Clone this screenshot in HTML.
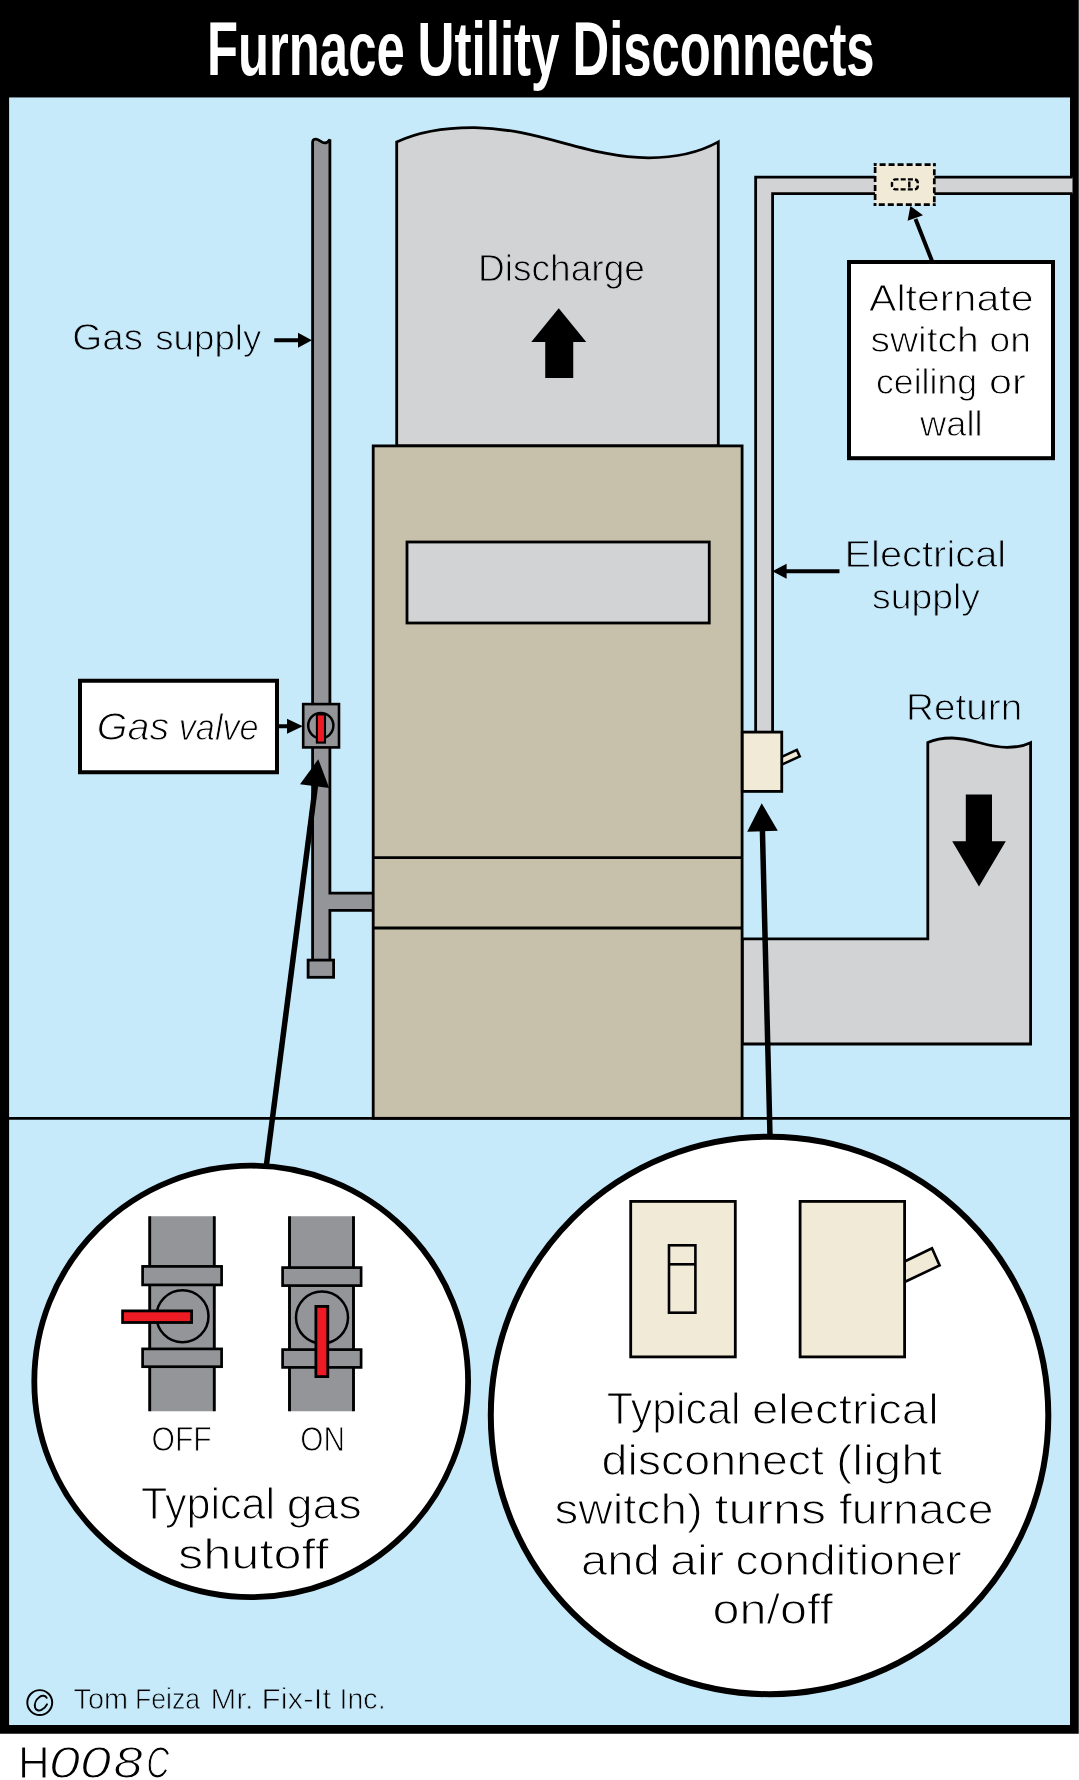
<!DOCTYPE html>
<html>
<head>
<meta charset="utf-8">
<title>Furnace Utility Disconnects</title>
<style>
html,body{margin:0;padding:0;background:#fff;}
body{width:1079px;height:1780px;overflow:hidden;font-family:"Liberation Sans",sans-serif;}
svg{display:block;position:absolute;left:0;top:0;will-change:transform;}
text{font-family:"Liberation Sans",sans-serif;}
</style>
</head>
<body>
<svg width="1079" height="1780" viewBox="0 0 1079 1780">
<!-- FRAME -->
<rect x="0" y="0" width="1078.75" height="1733.75" fill="#000"/>
<rect x="9.1" y="97.45" width="1060.9" height="1627.55" fill="#c7eafb"/>
<!-- TITLE -->
<g id="title" fill="#fff">
<text x="207.0" y="74.85" font-size="75.5" textLength="197.65" lengthAdjust="spacingAndGlyphs" font-weight="bold">Furnace</text>
<text x="417.5" y="74.85" font-size="75.5" textLength="142.07" lengthAdjust="spacingAndGlyphs" font-weight="bold">Utility</text>
<text x="572.5" y="74.85" font-size="75.5" textLength="302.1" lengthAdjust="spacingAndGlyphs" font-weight="bold">Disconnects</text>
</g>
<!-- SCENE -->
<g id="scene" stroke="#000" stroke-width="2.8" stroke-linejoin="miter">
<!-- floor line -->
<line x1="9" y1="1118.3" x2="1070" y2="1118.3"/>
<!-- discharge duct -->
<path d="M396.7,446 L396.7,142 C420,131 448,127.3 475,127.6 C540,128.5 588,157.8 648.5,157.8 C678,157.8 701,151.5 718.3,141.9 L718.3,446 Z" fill="#d1d3d4"/>
<!-- return duct -->
<path d="M742.3,938.9 L927.8,938.9 L927.8,742.6 C935,739.2 943,738 952,738 C975,738.5 985,747.3 1007,747.3 C1017,747.3 1025,745.5 1030.6,742.8 L1030.6,1044 L742.3,1044 Z" fill="#d1d3d4"/>
<!-- gas pipe -->
<path d="M312.6,960 L312.6,142.2 C312.6,139.6 314.4,139 316,139.1 C319.6,139.4 321.4,142.9 324.8,142.9 C327,142.9 328.6,141.4 329.9,139.4 L329.9,893.2 L373,893.2 L373,910.3 L329.9,910.3 L329.9,960 Z" fill="#939598" stroke="none"/>
<path d="M312.6,960 L312.6,142.2 C312.6,139.6 314.4,139 316,139.1 C319.6,139.4 321.4,142.9 324.8,142.9 C327,142.9 328.6,141.4 329.9,139.4 L329.9,893.2 L373,893.2 M373,910.3 L329.9,910.3 L329.9,960" fill="none" stroke-miterlimit="2"/>
<rect x="308.1" y="960.1" width="25.5" height="17.2" fill="#939598"/>
<!-- furnace -->
<rect x="373.2" y="445.9" width="368.9" height="672.4" fill="#c7c0aa"/>
<line x1="373.2" y1="857.7" x2="742.3" y2="857.7"/>
<line x1="373.2" y1="928" x2="742.3" y2="928"/>
<rect x="407" y="542" width="302.25" height="81" fill="#d1d3d4"/>
<!-- conduit -->
<path d="M755.65,733 L755.65,177.2 L1072.5,177.2 L1072.5,193.6 L772.6,193.6 L772.6,733 Z" fill="#d1d3d4" stroke="none"/>
<path d="M755.65,733 L755.65,177.2 L1072.5,177.2 M1072.5,193.6 L772.6,193.6 L772.6,733" fill="none"/>
<!-- junction box -->
<rect x="875.1" y="164.7" width="59.2" height="39.9" fill="#f1ead6" stroke="none"/>
<g fill="none" stroke-width="2.7" stroke-dasharray="6 3" stroke-dashoffset="3.15">
<line x1="873.75" y1="164.7" x2="935.65" y2="164.7"/>
<line x1="934.3" y1="163.35" x2="934.3" y2="205.95"/>
<line x1="935.65" y1="204.6" x2="873.75" y2="204.6"/>
<line x1="875.1" y1="205.95" x2="875.1" y2="163.35"/>
</g>
<rect x="892" y="179.4" width="25.8" height="10" rx="3.5" fill="none" stroke-width="2.4" stroke-dasharray="5 2.2" stroke-dashoffset="2"/>
<line x1="909.3" y1="181.5" x2="909.3" y2="187.5" stroke-width="2.4"/>
<!-- switch on furnace -->
<path d="M781.75,756.8 L796.8,749.9 L799.75,756.45 L781.75,764.65 Z" fill="#f1ead6" stroke-width="2.5"/>
<rect x="742.3" y="732.1" width="39.45" height="59.3" fill="#f1ead6"/>
<!-- gas valve -->
<rect x="303.2" y="704.1" width="35.8" height="43.3" fill="#939598" stroke-width="2.6"/>
<circle cx="320.8" cy="725.6" r="12.6" fill="none" stroke-width="2.5"/>
<rect x="316.9" y="714.4" width="8.1" height="28.2" fill="#ed1c24" stroke-width="2.1"/>
<!-- label boxes -->
<rect x="80" y="680.75" width="197" height="91.5" fill="#fff" stroke-width="4"/>
<rect x="849" y="262" width="204" height="196.2" fill="#fff" stroke-width="4"/>
<!-- small arrows -->
<g stroke-width="4" fill="#000">
<line x1="274.25" y1="340.25" x2="299" y2="340.25"/>
<line x1="279" y1="726.25" x2="288" y2="726.25"/>
<line x1="786" y1="571.25" x2="839.5" y2="571.25"/>
<line x1="931.9" y1="260.7" x2="915.5" y2="219"/>
</g>
<g stroke="none" fill="#000">
<polygon points="298,332.75 311.9,340.25 298,347.75"/>
<polygon points="287,718.75 302.8,726.25 287,733.75"/>
<polygon points="786.6,563.75 772.4,571.25 786.6,578.75"/>
<polygon points="910.4,206 923,215.3 907.6,220.8"/>
<!-- big arrows -->
<polygon points="558.75,308.25 586.25,342 573.25,342 573.25,378 545.25,378 545.25,342 531.25,342"/>
<polygon points="965.8,794.5 992,794.5 992,841.2 1005.8,841.2 979,886.5 952.2,841.2 965.8,841.2"/>
<!-- leader heads -->
<polygon points="318.3,759.2 300,784.2 329.2,788"/>
<polygon points="761.7,803.3 747.2,831.7 777.8,830.8"/>
</g>
<g stroke-width="5.5">
<line x1="266.4" y1="1165" x2="315.4" y2="786"/>
<line x1="770" y1="1136" x2="762.4" y2="830"/>
</g>

</g>
<!-- CIRCLES -->
<g id="circles" stroke="#000" stroke-width="2.8">
<ellipse cx="251.2" cy="1381.4" rx="216.9" ry="215.7" fill="#fff" stroke-width="5.8"/>
<circle cx="769.55" cy="1415.45" r="278.75" fill="#fff" stroke-width="6"/>
<!-- OFF valve -->
<rect x="149.7" y="1216.25" width="64.6" height="195" fill="#939598" stroke="none"/>
<path d="M149.7,1216.25 V1411.25 M214.3,1216.25 V1411.25" fill="none" stroke-width="2.9"/>
<rect x="142.6" y="1266.4" width="79" height="18.5" fill="#939598" stroke-width="2.7"/>
<rect x="142.6" y="1348.9" width="79" height="17.8" fill="#939598" stroke-width="2.7"/>
<circle cx="182.5" cy="1316.25" r="26" fill="none" stroke-width="2.5"/>
<rect x="122.6" y="1310.9" width="69" height="11.6" fill="#ed1c24" stroke-width="2.8"/>
<!-- ON valve -->
<rect x="289.5" y="1216.25" width="64" height="195" fill="#939598" stroke="none"/>
<path d="M289.5,1216.25 V1411.25 M353.5,1216.25 V1411.25" fill="none" stroke-width="2.9"/>
<rect x="282.6" y="1267.6" width="78.5" height="18" fill="#939598" stroke-width="2.7"/>
<rect x="282.6" y="1349.6" width="78.5" height="17.8" fill="#939598" stroke-width="2.7"/>
<circle cx="322" cy="1317.5" r="26" fill="none" stroke-width="2.5"/>
<rect x="315.9" y="1306.4" width="11.9" height="70.2" fill="#ed1c24" stroke-width="2.8"/>
<!-- switch plates -->
<rect x="630.7" y="1201.4" width="104.6" height="155.5" fill="#f1ead6" stroke-width="2.8"/>
<rect x="669" y="1245.3" width="26.4" height="67.4" fill="#f1ead6" stroke-width="2.6"/>
<line x1="669" y1="1264.3" x2="695.4" y2="1264.3" stroke-width="2.6"/>
<path d="M904.6,1261.5 L932,1248.3 L939.6,1265.4 L904.6,1282" fill="#f1ead6" stroke-width="2.6"/>
<rect x="800.1" y="1201.4" width="104.5" height="155.5" fill="#f1ead6" stroke-width="2.8"/>
<!-- copyright symbol -->
<circle cx="39.75" cy="1702.55" r="12.45" fill="none" stroke-width="1.95"/>
<path d="M46.7,1697.8 C45.5,1695.4 42,1695 39.5,1697 C36,1699.6 34.2,1704 35,1707.3 C35.8,1710.6 39,1711.1 41.5,1709.8 C44,1708.5 46,1706.5 47,1704.3" fill="none" stroke-width="1.9" stroke-linecap="round"/>
</g>
<!-- LABELS -->
<g id="labels" fill="#000" stroke-linejoin="round">
<text x="478.0" y="281" font-size="36.5" textLength="166.87" lengthAdjust="spacingAndGlyphs" stroke="#d1d3d4" stroke-width="0.95">Discharge</text>
<text x="72.25" y="349.5" font-size="37.5" textLength="70.88" lengthAdjust="spacingAndGlyphs" stroke="#c7eafb" stroke-width="0.97">Gas</text>
<text x="155.25" y="349.5" font-size="35.6" textLength="106.02" lengthAdjust="spacingAndGlyphs" stroke="#c7eafb" stroke-width="0.93">supply</text>
<text x="869.0" y="310.6" font-size="37" textLength="164.53" lengthAdjust="spacingAndGlyphs" stroke="#fff" stroke-width="0.96">Alternate</text>
<text x="870.5" y="352.2" font-size="35.1" textLength="108.16" lengthAdjust="spacingAndGlyphs" stroke="#fff" stroke-width="0.91">switch</text>
<text x="989.5" y="352.2" font-size="35.1" textLength="41.37" lengthAdjust="spacingAndGlyphs" stroke="#fff" stroke-width="0.91">on</text>
<text x="876.0" y="393.8" font-size="35.1" textLength="101.13" lengthAdjust="spacingAndGlyphs" stroke="#fff" stroke-width="0.91">ceiling</text>
<text x="989.0" y="393.8" font-size="35.1" textLength="36.78" lengthAdjust="spacingAndGlyphs" stroke="#fff" stroke-width="0.91">or</text>
<text x="920.0" y="435.7" font-size="35.1" textLength="62.65" lengthAdjust="spacingAndGlyphs" stroke="#fff" stroke-width="0.91">wall</text>
<text x="844.5" y="566.8" font-size="37.5" textLength="161.68" lengthAdjust="spacingAndGlyphs" stroke="#c7eafb" stroke-width="0.97">Electrical</text>
<text x="872.0" y="608.5" font-size="35.6" textLength="108.05" lengthAdjust="spacingAndGlyphs" stroke="#c7eafb" stroke-width="0.93">supply</text>
<text x="906.0" y="719.5" font-size="37.5" textLength="116.24" lengthAdjust="spacingAndGlyphs" stroke="#c7eafb" stroke-width="0.97">Return</text>
<text x="96.75" y="740" font-size="38" textLength="72.4" lengthAdjust="spacingAndGlyphs" stroke="#fff" stroke-width="0.99" font-style="italic">Gas</text>
<text x="178.75" y="740" font-size="36.1" textLength="79.92" lengthAdjust="spacingAndGlyphs" stroke="#fff" stroke-width="0.94" font-style="italic">valve</text>
<text x="151.5" y="1450.75" font-size="34.5" textLength="60.13" lengthAdjust="spacingAndGlyphs" stroke="#fff" stroke-width="0.9">OFF</text>
<text x="300.25" y="1450.75" font-size="34.5" textLength="44.63" lengthAdjust="spacingAndGlyphs" stroke="#fff" stroke-width="0.9">ON</text>
<text x="141.0" y="1518.75" font-size="44" textLength="134.13" lengthAdjust="spacingAndGlyphs" stroke="#fff" stroke-width="1.14">Typical</text>
<text x="286.75" y="1518.75" font-size="41.8" textLength="74.94" lengthAdjust="spacingAndGlyphs" stroke="#fff" stroke-width="1.09">gas</text>
<text x="178.0" y="1568.75" font-size="41.8" textLength="150.78" lengthAdjust="spacingAndGlyphs" stroke="#fff" stroke-width="1.09">shutoff</text>
<text x="606.75" y="1424.3" font-size="44.5" textLength="133.85" lengthAdjust="spacingAndGlyphs" stroke="#fff" stroke-width="1.16">Typical</text>
<text x="752.0" y="1424.3" font-size="42.3" textLength="186.66" lengthAdjust="spacingAndGlyphs" stroke="#fff" stroke-width="1.1">electrical</text>
<text x="601.5" y="1474.5" font-size="42.3" textLength="222.52" lengthAdjust="spacingAndGlyphs" stroke="#fff" stroke-width="1.1">disconnect</text>
<text x="836.0" y="1474.5" font-size="42.3" textLength="106.1" lengthAdjust="spacingAndGlyphs" stroke="#fff" stroke-width="1.1">(light</text>
<text x="554.5" y="1524.4" font-size="42.3" textLength="148.37" lengthAdjust="spacingAndGlyphs" stroke="#fff" stroke-width="1.1">switch)</text>
<text x="714.5" y="1524.4" font-size="42.3" textLength="111.56" lengthAdjust="spacingAndGlyphs" stroke="#fff" stroke-width="1.1">turns</text>
<text x="839.0" y="1524.4" font-size="42.3" textLength="154.57" lengthAdjust="spacingAndGlyphs" stroke="#fff" stroke-width="1.1">furnace</text>
<text x="581.0" y="1574.6" font-size="42.3" textLength="78.83" lengthAdjust="spacingAndGlyphs" stroke="#fff" stroke-width="1.1">and</text>
<text x="670.0" y="1574.6" font-size="42.3" textLength="54.14" lengthAdjust="spacingAndGlyphs" stroke="#fff" stroke-width="1.1">air</text>
<text x="735.5" y="1574.6" font-size="42.3" textLength="226.05" lengthAdjust="spacingAndGlyphs" stroke="#fff" stroke-width="1.1">conditioner</text>
<text x="712.5" y="1624.4" font-size="42.3" textLength="120.55" lengthAdjust="spacingAndGlyphs" stroke="#fff" stroke-width="1.1">on/off</text>
<text x="73.5" y="1709.3" font-size="29.5" textLength="54.62" lengthAdjust="spacingAndGlyphs" stroke="#c7eafb" stroke-width="0.77">Tom</text>
<text x="135.0" y="1709.3" font-size="29.5" textLength="65.08" lengthAdjust="spacingAndGlyphs" stroke="#c7eafb" stroke-width="0.77">Feiza</text>
<text x="210.5" y="1709.3" font-size="29.5" textLength="43.04" lengthAdjust="spacingAndGlyphs" stroke="#c7eafb" stroke-width="0.77">Mr.</text>
<text x="261.5" y="1709.3" font-size="29.5" textLength="69.59" lengthAdjust="spacingAndGlyphs" stroke="#c7eafb" stroke-width="0.77">Fix-It</text>
<text x="339.5" y="1709.3" font-size="29.5" textLength="46.14" lengthAdjust="spacingAndGlyphs" stroke="#c7eafb" stroke-width="0.77">Inc.</text>
<text x="18.0" y="1778.3" font-size="45" textLength="31.61" lengthAdjust="spacingAndGlyphs" stroke="#fff" stroke-width="1.17">H</text>
<text x="49.0" y="1778.3" font-size="45" textLength="62.12" lengthAdjust="spacingAndGlyphs" stroke="#fff" stroke-width="1.17" font-style="italic">00</text>
<text x="113.5" y="1778.3" font-size="45" textLength="29.09" lengthAdjust="spacingAndGlyphs" stroke="#fff" stroke-width="1.17" font-style="italic">8</text>
<text x="146.5" y="1778.3" font-size="45" textLength="22.69" lengthAdjust="spacingAndGlyphs" stroke="#fff" stroke-width="1.17" font-style="italic">C</text>
</g>
</svg>
</body>
</html>
